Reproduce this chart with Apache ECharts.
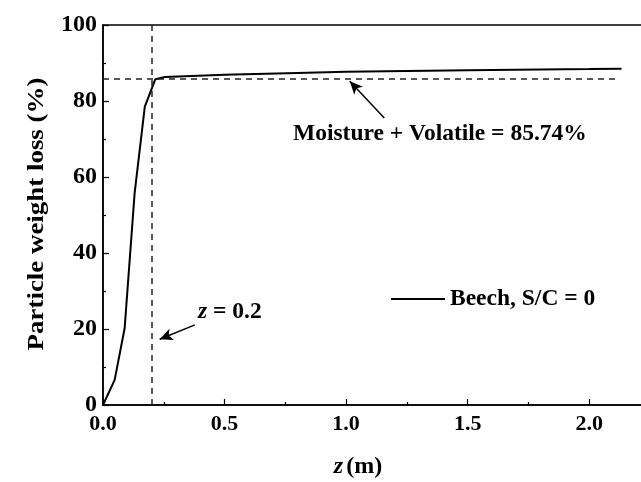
<!DOCTYPE html>
<html>
<head>
<meta charset="utf-8">
<script src="https://cdn.jsdelivr.net/npm/echarts@6/dist/echarts.min.js"></script>
<style>
  html, body { margin: 0; padding: 0; background: #fff; }
  #chart { width: 641px; height: 482px; }
</style>
</head>
<body>
<div id="chart"></div>
<script>
// Axial position along the reactor (m) and particle weight loss (%)
const zPos = [0, 0.048, 0.089, 0.13, 0.172, 0.215, 0.255, 0.5, 0.8, 1.0, 1.5, 2.0, 2.133];
const weightLoss = [0, 6.6, 20.2, 55.7, 78.5, 85.7, 86.3, 86.9, 87.4, 87.7, 88.1, 88.4, 88.5];

// Reference levels
const volatileLevel = 85.74;   // moisture + volatile content (%)
const volatileEnd = 2.12;      // extent of the dashed reference line (m)
const zMark = 0.2;             // position where devolatilisation ends (m)

// Annotation arrows: [start, tip] in data coordinates
const volatileArrow = [[1.157, 75.5], [1.015, 85.2]];
const zArrow = [[0.378, 21.1], [0.233, 17.3]];

const FONT = '"Liberation Serif", "Times New Roman", serif';
const NOTE_SIZE = 23.5;

const chart = echarts.init(document.getElementById('chart'), null, { renderer: 'canvas' });

const seriesData = zPos.map((z, i) => [z, weightLoss[i]]);

function arrowLine(pts) {
  return [
    { coord: pts[0], symbol: 'none' },
    { coord: pts[1], symbol: 'arrow', symbolSize: [9, 13] }
  ];
}

const boldText = (size) => ({ fontFamily: FONT, fontWeight: 'bold', fontSize: size, fill: '#000' });
const italicText = (size) => ({ fontFamily: FONT, fontStyle: 'italic', fontWeight: 'bold', fontSize: size, fill: '#000' });

chart.setOption({
  animation: false,
  backgroundColor: '#fff',
  grid: {
    left: 103, top: 25, width: 547, height: 380,
    outerBoundsMode: 'none',
    containLabel: false,
    show: true, borderColor: '#000', borderWidth: 1.5, backgroundColor: 'transparent'
  },
  xAxis: {
    type: 'value', min: 0, max: 2.25, interval: 0.5,
    axisLine: { show: true, lineStyle: { color: '#000', width: 1.5 } },
    axisTick: { show: true, inside: true, length: 6, lineStyle: { color: '#000', width: 1.2 } },
    minorTick: { show: true, splitNumber: 2, length: 3, lineStyle: { color: '#000', width: 1.2 } },
    splitLine: { show: false },
    axisLabel: {
      margin: 8, color: '#000', fontFamily: FONT, fontWeight: 'bold', fontSize: 22,
      showMaxLabel: false,
      formatter: v => v.toFixed(1)
    }
  },
  yAxis: {
    type: 'value', min: 0, max: 100, interval: 20,
    axisLine: { show: true, lineStyle: { color: '#000', width: 1.5 } },
    axisTick: { show: true, inside: true, length: 6, lineStyle: { color: '#000', width: 1.2 } },
    minorTick: { show: true, splitNumber: 2, length: 3, lineStyle: { color: '#000', width: 1.2 } },
    splitLine: { show: false },
    axisLabel: { margin: 6, color: '#000', fontFamily: FONT, fontWeight: 'bold', fontSize: 24 }
  },
  legend: {
    left: 386, top: 282,
    itemWidth: 54, itemHeight: 2, icon: 'rect',
    textStyle: { color: '#000', fontFamily: FONT, fontWeight: 'bold', fontSize: NOTE_SIZE },
    data: ['Beech, S/C = 0']
  },
  series: [{
    name: 'Beech, S/C = 0',
    type: 'line',
    data: seriesData,
    showSymbol: false,
    lineStyle: { color: '#000', width: 2 },
    itemStyle: { color: '#000' },
    markLine: {
      silent: true,
      symbol: 'none',
      label: { show: false },
      lineStyle: { color: '#222', width: 1.5, type: [6, 5] },
      data: [
        [{ coord: [0, volatileLevel] }, { coord: [volatileEnd, volatileLevel] }],
        [{ coord: [zMark, 0] }, { coord: [zMark, 100] }]
      ]
    }
  }, {
    // annotation arrows
    type: 'line',
    data: [],
    markLine: {
      silent: true,
      label: { show: false },
      lineStyle: { color: '#000', width: 1.5, type: 'solid' },
      data: [arrowLine(volatileArrow), arrowLine(zArrow)]
    }
  }],
  graphic: [
    {
      // y-axis title
      type: 'text', x: 37, y: 214, rotation: Math.PI / 2, scaleX: 1.17,
      style: Object.assign(boldText(23), {
        text: 'Particle weight loss (%)', align: 'center', verticalAlign: 'middle'
      })
    },
    {
      // x-axis title
      type: 'text', x: 358, y: 467,
      style: {
        rich: { i: italicText(24), b: boldText(24) },
        text: '{i|z} {b|(m)}', align: 'center', verticalAlign: 'middle'
      }
    },
    {
      type: 'text', x: 293, y: 134,
      style: Object.assign(boldText(NOTE_SIZE), {
        text: 'Moisture + Volatile = 85.74%', align: 'left', verticalAlign: 'middle'
      })
    },
    {
      type: 'text', x: 198, y: 312,
      style: {
        rich: { i: italicText(NOTE_SIZE), b: boldText(NOTE_SIZE) },
        text: '{i|z}{b| = 0.2}', align: 'left', verticalAlign: 'middle'
      }
    }
  ]
});
</script>
</body>
</html>
